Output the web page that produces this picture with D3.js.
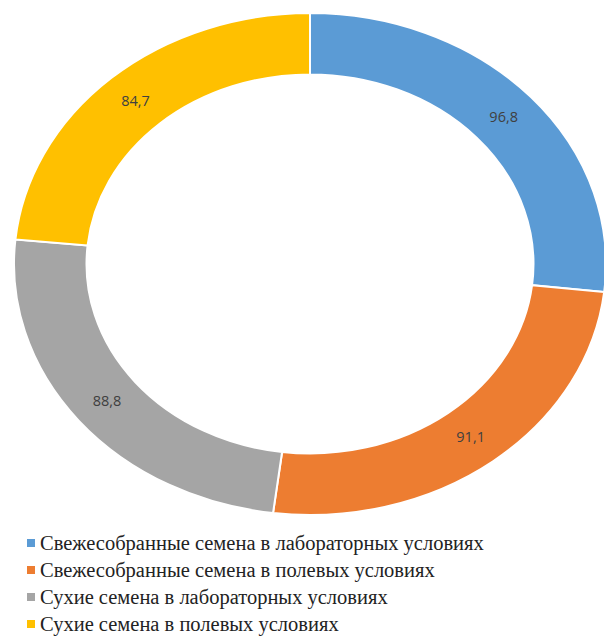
<!DOCTYPE html>
<html>
<head>
<meta charset="UTF-8">
<title>Donut</title>
<script src="https://cdnjs.cloudflare.com/ajax/libs/d3/7.8.5/d3.min.js"></script>
<style>
  body { margin: 0; background: #fff; }
</style>
</head>
<body>
<svg id="chart"></svg>
<script>
const categories = [
  "Свежесобранные семена в лабораторных условиях",
  "Свежесобранные семена в полевых условиях",
  "Сухие семена в лабораторных условиях",
  "Сухие семена в полевых условиях"
];
const values = [96.8, 91.1, 88.8, 84.7];
const colors = ["#5B9BD5", "#ED7D31", "#A5A5A5", "#FFC000"];

const W = 604, H = 637;
const svg = d3.select("#chart").attr("width", W).attr("height", H);

// the donut is stretched into an ellipse
const cx = 310, cy = 264, rx = 296, ry = 251;
const R = 100;
const inner = 0.755;

const pie = d3.pie().sort(null).value(d => d);
const arcs = pie(values);
const arc = d3.arc().innerRadius(R * inner).outerRadius(R);
const labelArc = d3.arc().innerRadius(R * (1 + inner) / 2).outerRadius(R * (1 + inner) / 2);

const g = svg.append("g")
  .attr("transform", "translate(" + cx + "," + cy + ") scale(" + (rx / R) + "," + (ry / R) + ")");

g.selectAll("path")
  .data(arcs)
  .enter().append("path")
  .attr("d", arc)
  .attr("fill", (d, i) => colors[i])
  .attr("stroke", "#fff")
  .attr("stroke-width", 2)
  .attr("vector-effect", "non-scaling-stroke");

// value labels, placed in unscaled coordinates
svg.append("g").selectAll("text")
  .data(arcs)
  .enter().append("text")
  .attr("x", d => cx + labelArc.centroid(d)[0] * rx / R)
  .attr("y", d => cy + labelArc.centroid(d)[1] * ry / R)
  .attr("dy", "0.35em")
  .attr("text-anchor", "middle")
  .style("font-family", "'Open Sans'")
  .style("font-size", "14.5px")
  .attr("fill", "#404040")
  .text(d => String(d.data).replace(".", ","));

// legend
const legend = svg.append("g").attr("transform", "translate(27,543)");
const rows = legend.selectAll("g")
  .data(categories)
  .enter().append("g")
  .attr("transform", (d, i) => "translate(0," + i * 27 + ")");
rows.append("rect")
  .attr("x", 0).attr("y", -4)
  .attr("width", 8).attr("height", 8)
  .attr("fill", (d, i) => colors[i]);
rows.append("text")
  .attr("x", 13)
  .attr("dy", "0.35em")
  .style("font-family", "'Liberation Serif', serif")
  .style("font-size", "20.5px")
  .attr("fill", "#222")
  .text(d => d);
</script>
</body>
</html>
